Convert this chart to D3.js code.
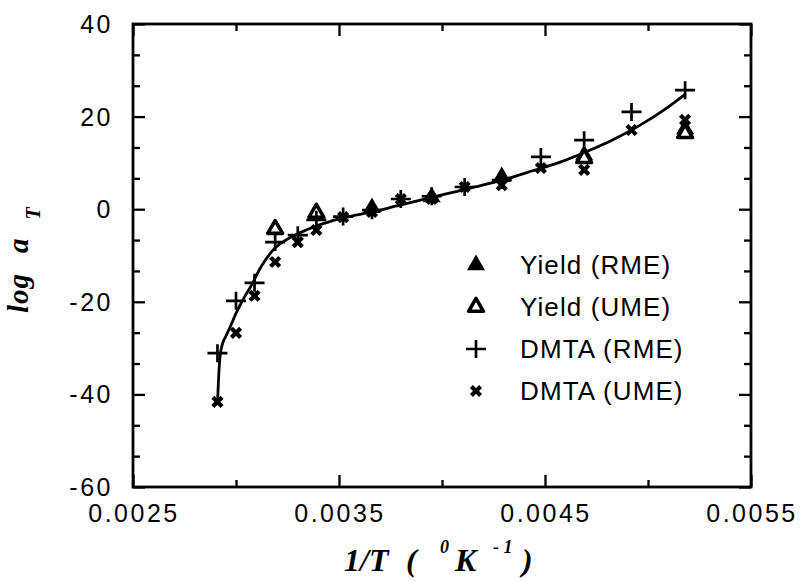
<!DOCTYPE html>
<html>
<head>
<meta charset="utf-8">
<script src="https://cdn.jsdelivr.net/npm/d3@7"></script>
<style>
  html, body { margin: 0; padding: 0; background: #fff; }
  svg { display: block; }
</style>
</head>
<body>
<svg id="chart" width="801" height="582"></svg>
<script>
// Shift factor log aT against reciprocal temperature 1/T (K^-1)

const xMajorTicks = [0.0025, 0.0035, 0.0045, 0.0055];
const xMinorTicks = [0.0030, 0.0040, 0.0050];
const yMajorTicks = [-60, -40, -20, 0, 20, 40];

// fitted master curve
const fitCurve = [
  [0.00291, -42.0], [0.002915, -37.0], [0.002922, -32.0], [0.002935, -29.0],
  [0.00295, -27.5], [0.002971, -25.5], [0.00300, -22.5], [0.003019, -20.8],
  [0.00305, -18.3], [0.003078, -16.2], [0.00310, -14.2], [0.003126, -12.1],
  [0.00316, -9.9], [0.003189, -8.4], [0.00323, -7.0], [0.00327, -6.0],
  [0.00332, -4.9], [0.003374, -3.9], [0.00344, -2.9], [0.00350, -2.1],
  [0.00358, -1.3], [0.00366, -0.6], [0.00378, 0.7], [0.00390, 2.0],
  [0.00402, 3.3], [0.00416, 4.8], [0.00430, 6.4], [0.00444, 8.3],
  [0.00457, 10.1], [0.00470, 12.4], [0.00483, 15.0], [0.00496, 18.1],
  [0.00508, 21.5], [0.00518, 24.8]
];

// Yield (RME)
const yieldRME = [
  [0.00366, 0.3], [0.00395, 2.6], [0.00429, 7.0], [0.00469, 11.7], [0.00518, 17.3]
];

// Yield (UME)
const yieldUME = [
  [0.00319, -4.3], [0.00339, -0.8], [0.00469, 11.0], [0.00518, 16.4]
];

// DMTA (RME)
const dmtaRME = [
  [0.00291, -31.1], [0.00300, -19.8], [0.00309, -15.9], [0.00319, -7.1],
  [0.00330, -5.6], [0.00339, -2.3], [0.00352, -1.6], [0.00366, -0.2],
  [0.00380, 2.2], [0.00395, 2.8], [0.00411, 4.8], [0.00429, 6.3],
  [0.00448, 11.3], [0.00469, 14.9], [0.00492, 21.0], [0.00518, 25.7]
];

// DMTA (UME)
const dmtaUME = [
  [0.00291, -41.6], [0.00300, -26.7], [0.00309, -18.7], [0.00319, -11.4],
  [0.00330, -7.1], [0.00339, -4.5], [0.00352, -1.7], [0.00366, -0.6],
  [0.00380, 2.2], [0.00395, 2.2], [0.00411, 4.8], [0.00429, 5.2],
  [0.00448, 8.9], [0.00469, 8.5], [0.00492, 17.1], [0.00518, 19.3]
];

const legendLabels = ["Yield (RME)", "Yield (UME)", "DMTA (RME)", "DMTA (UME)"];

const svg = d3.select("#chart");
const plot = { left: 133, right: 751, top: 24, bottom: 487 };

const x = d3.scaleLinear().domain([0.0025, 0.0055]).range([plot.left, plot.right]);
const y = d3.scaleLinear().domain([-60, 40]).range([plot.bottom, plot.top]);

const yMinorTicks = d3.range(-60, 40.001, 20 / 3).filter(v => !yMajorTicks.some(m => Math.abs(m - v) < 1e-6));

const sansFont = "'Liberation Sans', Arial, Helvetica, sans-serif";
const serifFont = "'Liberation Serif', 'Times New Roman', serif";
const majorLen = 12, minorLen = 7;

function styleAxis(g) {
  g.select(".domain").remove();
  g.selectAll(".tick line").attr("stroke", "#000").attr("stroke-width", 2.3);
}

// ticks on all four sides, pointing into the plot
function addTicks(axisFn, pos, isY, values, len) {
  svg.append("g")
    .attr("transform", isY ? `translate(${pos},0)` : `translate(0,${pos})`)
    .call(axisFn.tickValues(values).tickSize(len).tickFormat(""))
    .call(styleAxis);
}
addTicks(d3.axisRight(y), plot.left, true, yMinorTicks, minorLen);
addTicks(d3.axisRight(y), plot.left, true, yMajorTicks, majorLen);
addTicks(d3.axisLeft(y), plot.right, true, yMinorTicks, minorLen);
addTicks(d3.axisLeft(y), plot.right, true, yMajorTicks, majorLen);
addTicks(d3.axisTop(x), plot.bottom, false, xMinorTicks, minorLen);
addTicks(d3.axisTop(x), plot.bottom, false, xMajorTicks, majorLen);
addTicks(d3.axisBottom(x), plot.top, false, xMinorTicks, minorLen);
addTicks(d3.axisBottom(x), plot.top, false, xMajorTicks, majorLen);

// frame
svg.append("rect")
  .attr("x", plot.left).attr("y", plot.top)
  .attr("width", plot.right - plot.left).attr("height", plot.bottom - plot.top)
  .attr("fill", "none").attr("stroke", "#000").attr("stroke-width", 2.8);

// tick labels
svg.append("g").selectAll("text").data(yMajorTicks).join("text")
  .attr("x", plot.left - 20).attr("y", d => y(d))
  .attr("dy", "0.36em")
  .attr("text-anchor", "end")
  .attr("font-family", sansFont).attr("font-size", 25)
  .attr("letter-spacing", 2.5)
  .text(d => String(d));

svg.append("g").selectAll("text").data(xMajorTicks).join("text")
  .attr("x", d => x(d) + 1).attr("y", 522)
  .attr("text-anchor", "middle")
  .attr("font-family", sansFont).attr("font-size", 25)
  .attr("letter-spacing", 2.5)
  .text(d => d3.format(".4f")(d));

// master curve
svg.append("path")
  .datum(fitCurve)
  .attr("fill", "none").attr("stroke", "#000").attr("stroke-width", 2.8)
  .attr("stroke-linejoin", "round")
  .attr("d", d3.line().x(d => x(d[0])).y(d => y(d[1])).curve(d3.curveMonotoneX));

// marker shapes
const triPath = d3.symbol().type(d3.symbolTriangle).size(140)();
const openTriPath = d3.symbol().type(d3.symbolTriangle).size(95)();
const plusPath = "M-10,0H10M0,-9V9";
const crossPath = "M-4.6,-4.6L4.6,4.6M4.6,-4.6L-4.6,4.6";

const markerStyles = [
  { data: yieldRME, draw: g => g.append("path").attr("d", triPath).attr("fill", "#000") },
  { data: yieldUME, draw: g => g.append("path").attr("d", openTriPath).attr("fill", "#fff").attr("stroke", "#000").attr("stroke-width", 3.6).attr("stroke-linejoin", "round") },
  { data: dmtaRME,  draw: g => g.append("path").attr("d", plusPath).attr("fill", "none").attr("stroke", "#000").attr("stroke-width", 2.7) },
  { data: dmtaUME,  draw: g => g.append("path").attr("d", crossPath).attr("fill", "none").attr("stroke", "#000").attr("stroke-width", 4.2) }
];

markerStyles.forEach(s => {
  svg.append("g").selectAll("g").data(s.data).join("g")
    .attr("transform", d => `translate(${x(d[0])},${y(d[1])})`)
    .each(function() { s.draw(d3.select(this)); });
});

// legend
const legendRows = [265, 307, 349, 391];
legendLabels.forEach((label, i) => {
  const g = svg.append("g").attr("transform", `translate(476,${legendRows[i]})`);
  markerStyles[i].draw(g);
  svg.append("text")
    .attr("x", 520).attr("y", legendRows[i]).attr("dy", "0.36em")
    .attr("font-family", sansFont).attr("font-size", 26)
    .attr("letter-spacing", 1.1)
    .text(label);
});

// axis titles
const yTitle = svg.append("text")
  .attr("transform", "translate(28,313) rotate(-90)")
  .attr("font-family", serifFont).attr("font-weight", "bold").attr("font-style", "italic")
  .attr("font-size", 29).attr("letter-spacing", 1);
yTitle.append("tspan").text("log");
yTitle.append("tspan").attr("dx", 20).text("a");
yTitle.append("tspan").attr("dx", 18).attr("dy", 12).attr("font-size", 20).text("T");

const xTitle = svg.append("text")
  .attr("font-family", serifFont).attr("font-weight", "bold").attr("font-style", "italic")
  .attr("font-size", 32);
xTitle.append("tspan").attr("x", 344).attr("y", 571).text("1/T");
xTitle.append("tspan").attr("x", 406).attr("y", 571).text("(");
xTitle.append("tspan").attr("x", 440).attr("y", 553).attr("font-size", 18).text("0");
xTitle.append("tspan").attr("x", 455).attr("y", 571).text("K");
xTitle.append("tspan").attr("x", 493).attr("y", 553).attr("font-size", 18).text("- 1");
xTitle.append("tspan").attr("x", 522).attr("y", 571).text(")");
</script>
</body>
</html>
